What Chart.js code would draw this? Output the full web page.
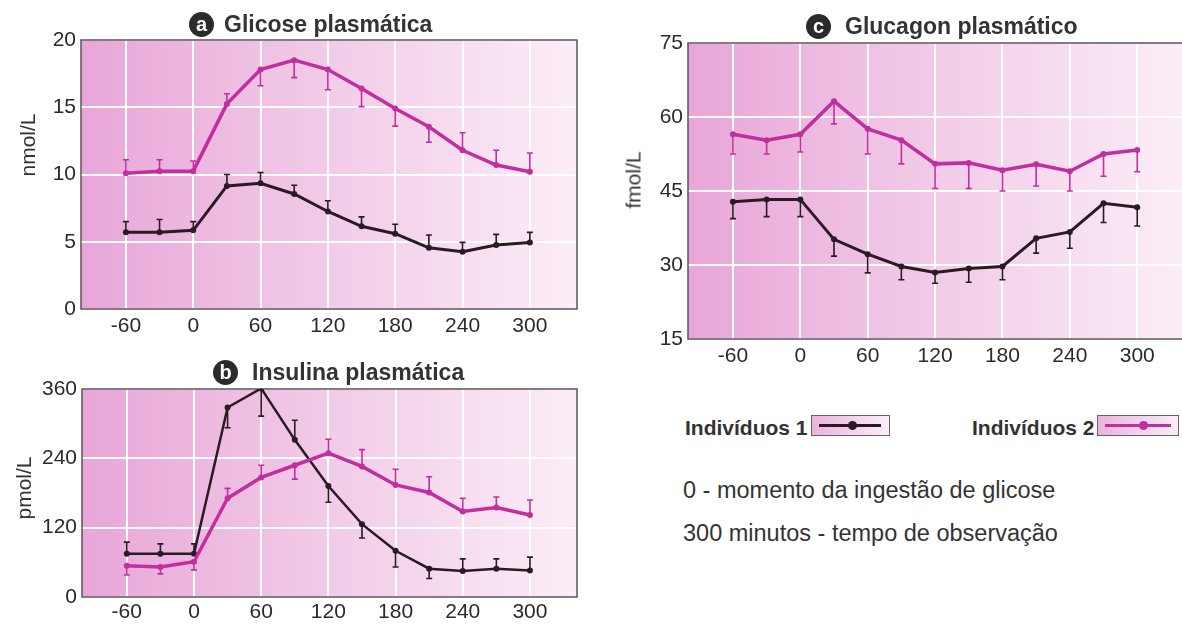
<!DOCTYPE html>
<html><head><meta charset="utf-8">
<script src="https://cdn.jsdelivr.net/npm/chart.js@4.4.1/dist/chart.umd.min.js"></script>
<style>
html,body{margin:0;padding:0;background:#fff;width:1182px;height:624px;overflow:hidden;}
body{position:relative;font-family:"Liberation Sans",Arial,sans-serif;color:#333;}
.cbox{position:absolute;}
.title{position:absolute;font-weight:bold;font-size:23px;line-height:23px;white-space:nowrap;color:#333;}
.circ{position:absolute;width:25px;height:25px;border-radius:50%;background:#2b2b2b;color:#fff;font-weight:bold;font-size:20px;text-align:center;line-height:24px;}
.ytitle{position:absolute;font-size:21px;line-height:21px;white-space:nowrap;color:#333;transform:translate(-50%,-50%) rotate(-90deg);}
.leg{position:absolute;font-weight:bold;font-size:21px;line-height:21px;white-space:nowrap;color:#333;}
.lbox{position:absolute;height:19px;border:1.5px solid #6a5f66;background:linear-gradient(to right,#eab3dc,#fbeef7);}
.lline{position:absolute;top:8px;height:3px;}
.ldot{position:absolute;top:5px;width:9px;height:9px;border-radius:50%;}
.note{position:absolute;font-size:23.5px;line-height:24px;white-space:nowrap;color:#333;}
</style>
</head><body>

<div class="cbox" style="left:0;top:0;width:600px;height:340px;"><canvas id="cA"></canvas></div>
<div class="cbox" style="left:0;top:340px;width:600px;height:284px;"><canvas id="cB"></canvas></div>
<div class="cbox" style="left:600px;top:0;width:600px;height:380px;"><canvas id="cC"></canvas></div>

<div class="circ" style="left:189px;top:12px;">a</div>
<div class="title" style="left:224px;top:13px;">Glicose plasmática</div>
<div class="circ" style="left:213px;top:360px;">b</div>
<div class="title" style="left:252px;top:361px;">Insulina plasmática</div>
<div class="circ" style="left:806px;top:14px;">c</div>
<div class="title" style="left:845px;top:15px;">Glucagon plasmático</div>

<div class="ytitle" style="left:27px;top:145px;">nmol/L</div>
<div class="ytitle" style="left:23px;top:488px;">pmol/L</div>
<div class="ytitle" style="left:633px;top:180px;">fmol/L</div>

<div class="leg" style="left:685px;top:417px;">Indivíduos 1</div>
<div class="lbox" style="left:811px;top:415px;width:77px;">
  <div class="lline" style="left:7px;width:62px;background:#2a1a24;"></div>
  <div class="ldot" style="left:36px;background:#2a1a24;"></div>
</div>
<div class="leg" style="left:972px;top:417px;">Indivíduos 2</div>
<div class="lbox" style="left:1097px;top:415px;width:80px;">
  <div class="lline" style="left:7px;width:66px;background:#c22e9e;"></div>
  <div class="ldot" style="left:41px;background:#c22e9e;"></div>
</div>

<div class="note" style="left:683px;top:478px;">0 - momento da ingestão de glicose</div>
<div class="note" style="left:683px;top:521px;">300 minutos - tempo de observação</div>

<script>
// ---- data ----
const times = [-60, -30, 0, 30, 60, 90, 120, 150, 180, 210, 240, 270, 300];
const xTickValues = [-60, 0, 60, 120, 180, 240, 300];
const glucoseTicks = [0, 5, 10, 15, 20];
const insulinTicks = [0, 120, 240, 360];
const glucagonTicks = [15, 30, 45, 60, 75];

const glucose1    = [5.7, 5.7, 5.85, 9.15, 9.35, 8.55, 7.25, 6.15, 5.6, 4.55, 4.25, 4.75, 4.95];
const glucose1Err = [6.5, 6.65, 6.5, 10.0, 10.15, 9.2, 8.05, 6.85, 6.3, 5.5, 4.95, 5.55, 5.7];
const glucose2    = [10.1, 10.25, 10.25, 15.25, 17.8, 18.5, 17.8, 16.4, 14.9, 13.55, 11.8, 10.7, 10.2];
const glucose2Err = [11.1, 11.1, 11.0, 16.0, 16.6, 17.2, 16.3, 15.05, 13.6, 12.4, 13.1, 11.8, 11.6];

const insulin1    = [75, 75, 75, 328, 361, 272, 192, 126, 80, 49, 45, 49, 46];
const insulin1Err = [95, 92, 92, 293, 313, 306, 164, 102, 52, 32, 66, 66, 69];
const insulin2    = [54, 52, 61, 171, 207, 228, 249, 226, 194, 181, 148, 155, 142];
const insulin2Err = [38, 40, 47, 188, 228, 204, 273, 255, 221, 208, 171, 173, 168];

const glucagon1    = [42.8, 43.3, 43.3, 35.2, 32.2, 29.7, 28.5, 29.3, 29.7, 35.4, 36.7, 42.5, 41.7];
const glucagon1Err = [39.4, 39.8, 39.8, 31.8, 28.4, 27.0, 26.3, 26.5, 27.0, 32.4, 33.4, 38.6, 37.9];
const glucagon2    = [56.5, 55.3, 56.5, 63.2, 57.6, 55.3, 50.5, 50.7, 49.2, 50.4, 49.0, 52.5, 53.3];
const glucagon2Err = [52.5, 52.5, 52.9, 58.6, 52.5, 50.5, 45.5, 45.5, 45.0, 46.0, 45.0, 48.0, 48.9];

// ---- styling ----
const BLACK = '#2a1a24';
const PINK = '#c22e9e';
const FONT = '"Liberation Sans", Arial, sans-serif';

const plotDeco = {
  id: 'plotDeco',
  beforeDraw(chart) {
    const { ctx, chartArea: a } = chart;
    const g = ctx.createLinearGradient(a.left, 0, a.left + 500, 0);
    g.addColorStop(0, '#e8a6d8');
    g.addColorStop(0.45, '#f1c8e6');
    g.addColorStop(1, '#fbeef7');
    ctx.save();
    ctx.fillStyle = g;
    ctx.fillRect(a.left, a.top, a.width, a.height);
    ctx.restore();
  },
  beforeDatasetsDraw(chart) {
    const { ctx, chartArea: a, scales } = chart;
    ctx.save();
    ctx.strokeStyle = '#5e525a';
    ctx.lineWidth = 1.5;
    ctx.strokeRect(a.left, a.top, a.width, a.height);
    chart.data.datasets.forEach(ds => {
      if (!ds.errEnd) return;
      ctx.strokeStyle = ds.borderColor;
      ctx.lineWidth = 1.6;
      ds.data.forEach((p, i) => {
        const x = scales.x.getPixelForValue(p.x);
        const y1 = scales.y.getPixelForValue(p.y);
        const y2 = scales.y.getPixelForValue(ds.errEnd[i]);
        ctx.beginPath();
        ctx.moveTo(x, y1); ctx.lineTo(x, y2);
        ctx.moveTo(x - 3, y2); ctx.lineTo(x + 3, y2);
        ctx.stroke();
      });
    });
    ctx.restore();
  }
};

function xy(vals) { return times.map((t, i) => ({ x: t, y: vals[i] })); }

function ds(vals, err, color, w) {
  return { data: xy(vals), errEnd: err, borderColor: color, backgroundColor: color,
           borderWidth: w, pointRadius: 3, pointBorderWidth: 0, tension: 0 };
}

function makeChart(id, box, plot, xr, yr, yTicks, datasets, xPad) {
  const padTop = plot.top - box.top;
  const padRight = box.left + box.width - plot.right;
  const yW = plot.left - box.left;
  const xH = box.top + box.height - plot.bottom;
  return new Chart(document.getElementById(id), {
    type: 'line',
    data: { datasets },
    options: {
      responsive: true, maintainAspectRatio: false, animation: false,
      layout: { padding: { top: padTop, right: padRight, left: 0, bottom: 0 } },
      plugins: { legend: { display: false }, tooltip: { enabled: false } },
      scales: {
        x: {
          type: 'linear', min: xr[0], max: xr[1],
          afterBuildTicks: s => { s.ticks = xTickValues.map(v => ({ value: v })); },
          afterFit: s => { s.height = xH; },
          grid: { color: '#ffffff', lineWidth: 2, drawTicks: false },
          border: { display: false },
          ticks: { padding: xPad, color: '#2a2a2a', font: { family: FONT, size: 21 },
                   autoSkip: false, maxRotation: 0, callback: v => String(v) }
        },
        y: {
          type: 'linear', min: yr[0], max: yr[1],
          afterBuildTicks: s => { s.ticks = yTicks.map(v => ({ value: v })); },
          afterFit: s => { s.width = yW; },
          grid: { color: '#ffffff', lineWidth: 2, drawTicks: false },
          border: { display: false },
          ticks: { padding: 5, color: '#2a2a2a', font: { family: FONT, size: 21 },
                   callback: v => String(v) }
        }
      }
    },
    plugins: [plotDeco]
  });
}

makeChart('cA', { left: 0, top: 0, width: 600, height: 340 },
  { left: 81, top: 40, right: 577, bottom: 309 }, [-100, 342], [0, 20], glucoseTicks,
  [ds(glucose2, glucose2Err, PINK, 3.5), ds(glucose1, glucose1Err, BLACK, 3)], 5);

makeChart('cB', { left: 0, top: 340, width: 600, height: 284 },
  { left: 82, top: 389, right: 577, bottom: 597 }, [-100, 342], [0, 360], insulinTicks,
  [ds(insulin2, insulin2Err, PINK, 3.5), ds(insulin1, insulin1Err, BLACK, 2.5)], 3);

makeChart('cC', { left: 600, top: 0, width: 600, height: 380 },
  { left: 688, top: 43, right: 1190, bottom: 339 }, [-100, 347], [15, 75], glucagonTicks,
  [ds(glucagon2, glucagon2Err, PINK, 3.5), ds(glucagon1, glucagon1Err, BLACK, 3)], 5);
</script>
</body></html>
